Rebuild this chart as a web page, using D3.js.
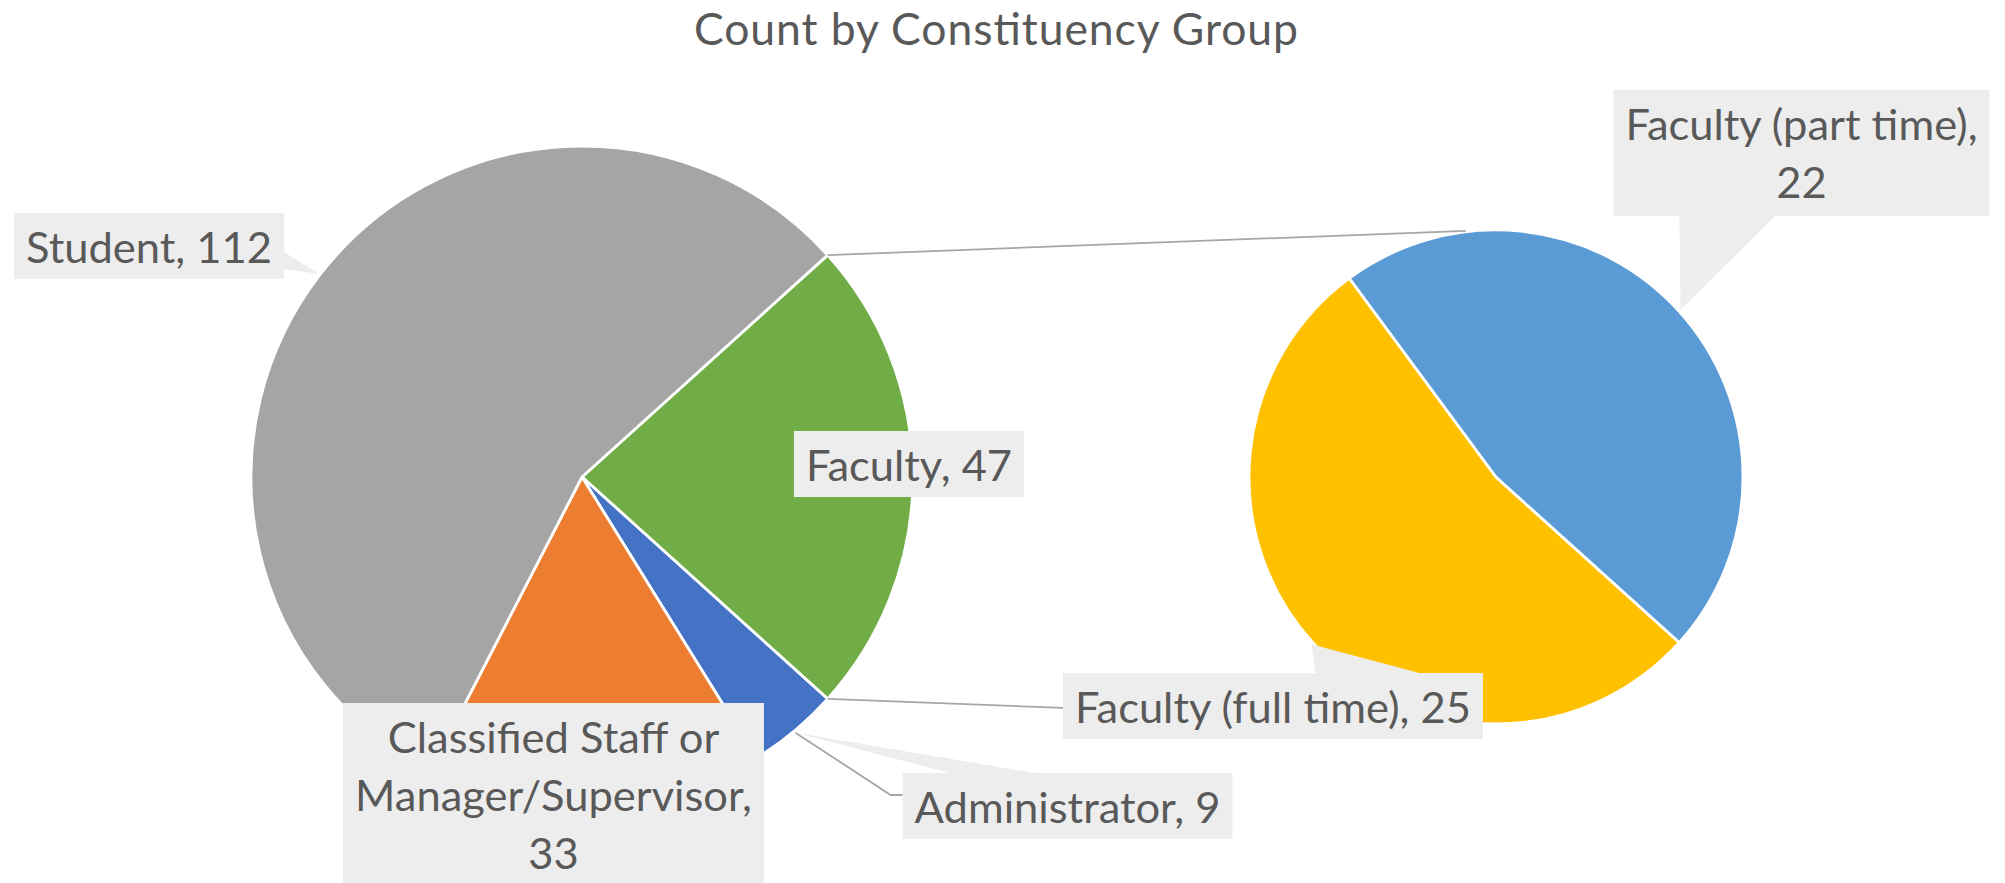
<!DOCTYPE html>
<html><head><meta charset="utf-8">
<script src="https://cdn.jsdelivr.net/npm/d3@7"></script>
<style>body{margin:0;background:#fff} svg{display:block}</style>
</head><body>
<svg id="chart" width="2005" height="883"></svg>
<script>
// ---------------- data ----------------
const chartTitle = "Count by Constituency Group";
const mainCategories = ["Faculty", "Administrator", "Classified Staff or Manager/Supervisor", "Student"];
const mainValues = [47, 9, 33, 112];
const mainColors = ["#70AD47", "#4472C4", "#ED7D31", "#A5A5A5"];
const subCategories = ["Faculty (full time)", "Faculty (part time)"];
const subValues = [25, 22];
const subColors = ["#FFC000", "#5B9BD5"];
const splitCategory = "Faculty";

// ---------------- layout ----------------
const FONT = "Lato, 'Liberation Sans', sans-serif";
const TEXT_COLOR = "#595959";
const BOX_FILL = "#EDEDED";
const LINE_COLOR = "#A6A6A6";
const mainPie = {cx: 582, cy: 477, r: 331};
const subPie = {cx: 1496, cy: 477, r: 247};
const labelLayout = {
  "Student": {cx: 149, top: 213, maxW: 600, callout: {side: "right", a: 38, b: 56}},
  "Faculty": {cx: 909, top: 431, maxW: 600},
  "Classified Staff or Manager/Supervisor": {cx: 553.5, top: 703, maxW: 420},
  "Administrator": {cx: 1067.5, top: 773, maxW: 600, callout: {side: "top", a: 51, b: 138}, leader: {dx: -12, dy: 22}},
  "Faculty (full time)": {cx: 1273, top: 673, maxW: 600, callout: {side: "top", a: 253, b: 360}},
  "Faculty (part time)": {cx: 1801.5, top: 90, maxW: 380, callout: {side: "bottom", a: 66, b: 162}}
};
const connectorSubAngles = [-7 * Math.PI / 180, 187 * Math.PI / 180];

const svg = d3.select("#chart");

// fit font sizes to the reference text widths
function measure(txt, size) {
  const t = svg.append("text").attr("font-family", FONT).attr("font-size", size).text(txt);
  const w = t.node().getComputedTextLength();
  t.remove();
  return w;
}
const labelSize = 48 * 246 / measure("Student, 112", 48);
const titleSize = 44.5;

const pt = (c, r, a) => [c.cx + r * Math.sin(a), c.cy - r * Math.cos(a)];

// ---------------- main pie ----------------
const total = d3.sum(mainValues);
const splitIdx = mainCategories.indexOf(splitCategory);
const splitShare = mainValues[splitIdx] / total;
const mainStart = Math.PI / 2 - splitShare * Math.PI;
const mainArcs = d3.pie().sort(null).value(d => d)
  .startAngle(mainStart).endAngle(mainStart + 2 * Math.PI)(mainValues);

const subStart = mainArcs[splitIdx].endAngle;
const subArcs = d3.pie().sort(null).value(d => d)
  .startAngle(subStart).endAngle(subStart + 2 * Math.PI)(subValues);

const mainArcGen = d3.arc().innerRadius(0).outerRadius(mainPie.r);
const subArcGen = d3.arc().innerRadius(0).outerRadius(subPie.r);

svg.append("g").attr("transform", `translate(${mainPie.cx},${mainPie.cy})`)
  .selectAll("path").data(mainArcs).join("path")
  .attr("d", mainArcGen).attr("fill", (d, i) => mainColors[i])
  .attr("stroke", "#fff").attr("stroke-width", 2.8).attr("stroke-linejoin", "round");

svg.append("g").attr("transform", `translate(${subPie.cx},${subPie.cy})`)
  .selectAll("path").data(subArcs).join("path")
  .attr("d", subArcGen).attr("fill", (d, i) => subColors[i])
  .attr("stroke", "#fff").attr("stroke-width", 2.8).attr("stroke-linejoin", "round");

// connector lines between the pies
const sp = mainArcs[splitIdx];
[[sp.startAngle, connectorSubAngles[0]], [sp.endAngle, connectorSubAngles[1]]].forEach(([a1, a2]) => {
  const p1 = pt(mainPie, mainPie.r, a1), p2 = pt(subPie, subPie.r + 1, a2);
  svg.append("line").attr("x1", p1[0]).attr("y1", p1[1]).attr("x2", p2[0]).attr("y2", p2[1])
    .attr("stroke", LINE_COLOR).attr("stroke-width", 1.8);
});

// ---------------- labels ----------------
function wrap(str, maxW) {
  const words = str.split(" ");
  const lines = [];
  let cur = "";
  words.forEach(w => {
    const test = cur ? cur + " " + w : w;
    if (cur && measure(test, labelSize) > maxW) { lines.push(cur); cur = w; }
    else cur = test;
  });
  if (cur) lines.push(cur);
  return lines;
}

const labels = [];
mainArcs.forEach((a, i) => labels.push({cat: mainCategories[i], value: mainValues[i], arc: a, pie: mainPie}));
subArcs.forEach((a, i) => labels.push({cat: subCategories[i], value: subValues[i], arc: a, pie: subPie}));

const gl = svg.append("g");
labels.forEach(l => {
  const lay = labelLayout[l.cat];
  const lines = wrap(`${l.cat}, ${l.value}`, lay.maxW);
  const tw = d3.max(lines, s => measure(s, labelSize));
  const bw = tw + 24;
  const bh = 66 + (lines.length - 1) * 60;
  const x0 = lay.cx - bw / 2, y0 = lay.top;
  const mid = (l.arc.startAngle + l.arc.endAngle) / 2;
  const tip = pt(l.pie, l.pie.r + 2, mid);
  if (lay.leader) {
    const ly = y0 + lay.leader.dy;
    gl.append("polyline")
      .attr("points", [tip, [x0 + lay.leader.dx, ly], [x0, ly]].map(p => p.join(",")).join(" "))
      .attr("fill", "none").attr("stroke", LINE_COLOR).attr("stroke-width", 1.8);
  }
  if (lay.callout) {
    const c = lay.callout;
    let base;
    if (c.side === "right") base = [[x0 + bw - 1, y0 + c.a], [x0 + bw - 1, y0 + c.b]];
    else if (c.side === "top") base = [[x0 + c.a, y0 + 1], [x0 + c.b, y0 + 1]];
    else base = [[x0 + c.a, y0 + bh - 1], [x0 + c.b, y0 + bh - 1]];
    gl.append("polygon").attr("points", [base[0], tip, base[1]].map(p => p.join(",")).join(" "))
      .attr("fill", BOX_FILL);
  }
  gl.append("rect").attr("x", x0).attr("y", y0).attr("width", bw).attr("height", bh).attr("fill", BOX_FILL);
  const t = gl.append("text").attr("font-family", FONT).attr("font-size", labelSize)
    .attr("fill", TEXT_COLOR).attr("text-anchor", "middle");
  lines.forEach((s, k) => t.append("tspan").attr("x", lay.cx).attr("y", y0 + 50 + k * 58).text(s));
});

// title
svg.append("text").attr("x", 996).attr("y", 45).attr("text-anchor", "middle")
  .attr("font-family", FONT).attr("font-size", titleSize).attr("fill", TEXT_COLOR)
  .attr("textLength", 604).attr("lengthAdjust", "spacing").text(chartTitle);
</script>
</body></html>
